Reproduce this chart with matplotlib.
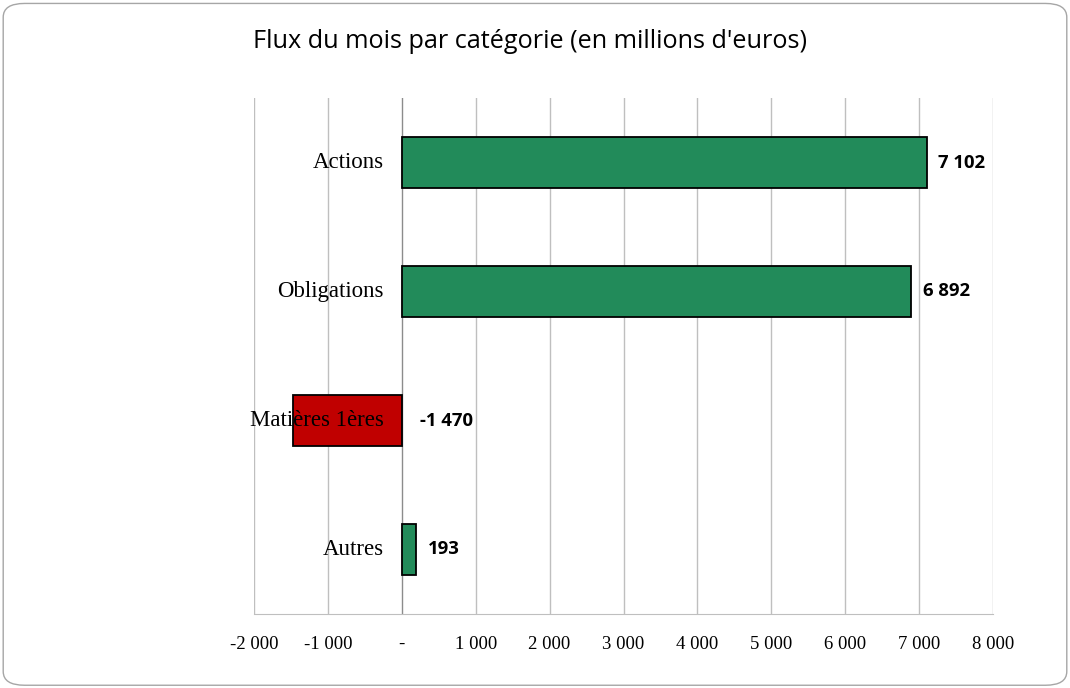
import matplotlib
matplotlib.use("Agg")
import matplotlib.pyplot as plt
from matplotlib.patches import FancyBboxPatch

categories = ["Actions", "Obligations", "Matières 1ères", "Autres"]
values = [7102, 6892, -1470, 193]
tick_values = [-2000, -1000, 0, 1000, 2000, 3000, 4000, 5000, 6000, 7000, 8000]

green = "#228B5A"
red = "#C00000"


def fmt(v):
  if v == 0:
    return "-"
  s = f"{abs(v):,}".replace(",", " ")
  return ("-" if v < 0 else "") + s


fig = plt.figure(figsize=(10.7, 6.88), dpi=100)
ax = fig.add_axes([254/1070, 1 - 614/688, (993-254)/1070, (614-98)/688])

# rounded frame around the whole chart
frame = FancyBboxPatch((0.003, 0.004), 0.994, 0.991, boxstyle="round,pad=0,rounding_size=0.02",
                       transform=fig.transFigure, facecolor="none", edgecolor="#A6A6A6", linewidth=1.0)
fig.patches.append(frame)

ypos = list(range(len(categories)))
colors = [red if v < 0 else green for v in values]
ax.barh(ypos, values, height=0.4, color=colors, edgecolor="black", linewidth=1.3, zorder=3)

ax.set_xlim(-2000, 8000)
ax.set_ylim(3.5, -0.5)
ax.set_xticks(tick_values)
ax.set_xticklabels([fmt(t) for t in tick_values], fontfamily="Liberation Serif", fontsize=13.5)
ax.tick_params(axis="x", length=0, pad=16)
ax.set_yticks([])

for t in tick_values:
  ax.axvline(t, color="#8C8C8C" if t == 0 else "#BFBFBF", linewidth=1.0, zorder=1)

for s in ["top", "right", "left"]:
  ax.spines[s].set_visible(False)
ax.spines["bottom"].set_color("#BFBFBF")

# category names, right aligned just left of the zero line
for y, c in zip(ypos, categories):
  ax.annotate(c, (0, y), xytext=(-13, 0), textcoords="offset points", ha="right", va="center",
              fontfamily="Liberation Serif", fontsize=16.5, zorder=5)

# value labels
for y, v in zip(ypos, values):
  x = max(v, 0)
  off = 8.5 if v >= 0 else 13
  ax.annotate(fmt(v), (x, y), xytext=(off, 0), textcoords="offset points", ha="left", va="center",
              fontfamily="Open Sans", fontweight="bold", fontsize=13.3, zorder=5)

fig.text(530/1070, 1 - 42/688, "Flux du mois par catégorie (en millions d'euros)",
         ha="center", va="center", fontfamily="Open Sans", fontsize=18.2)

fig.savefig("out.png", dpi=100)
